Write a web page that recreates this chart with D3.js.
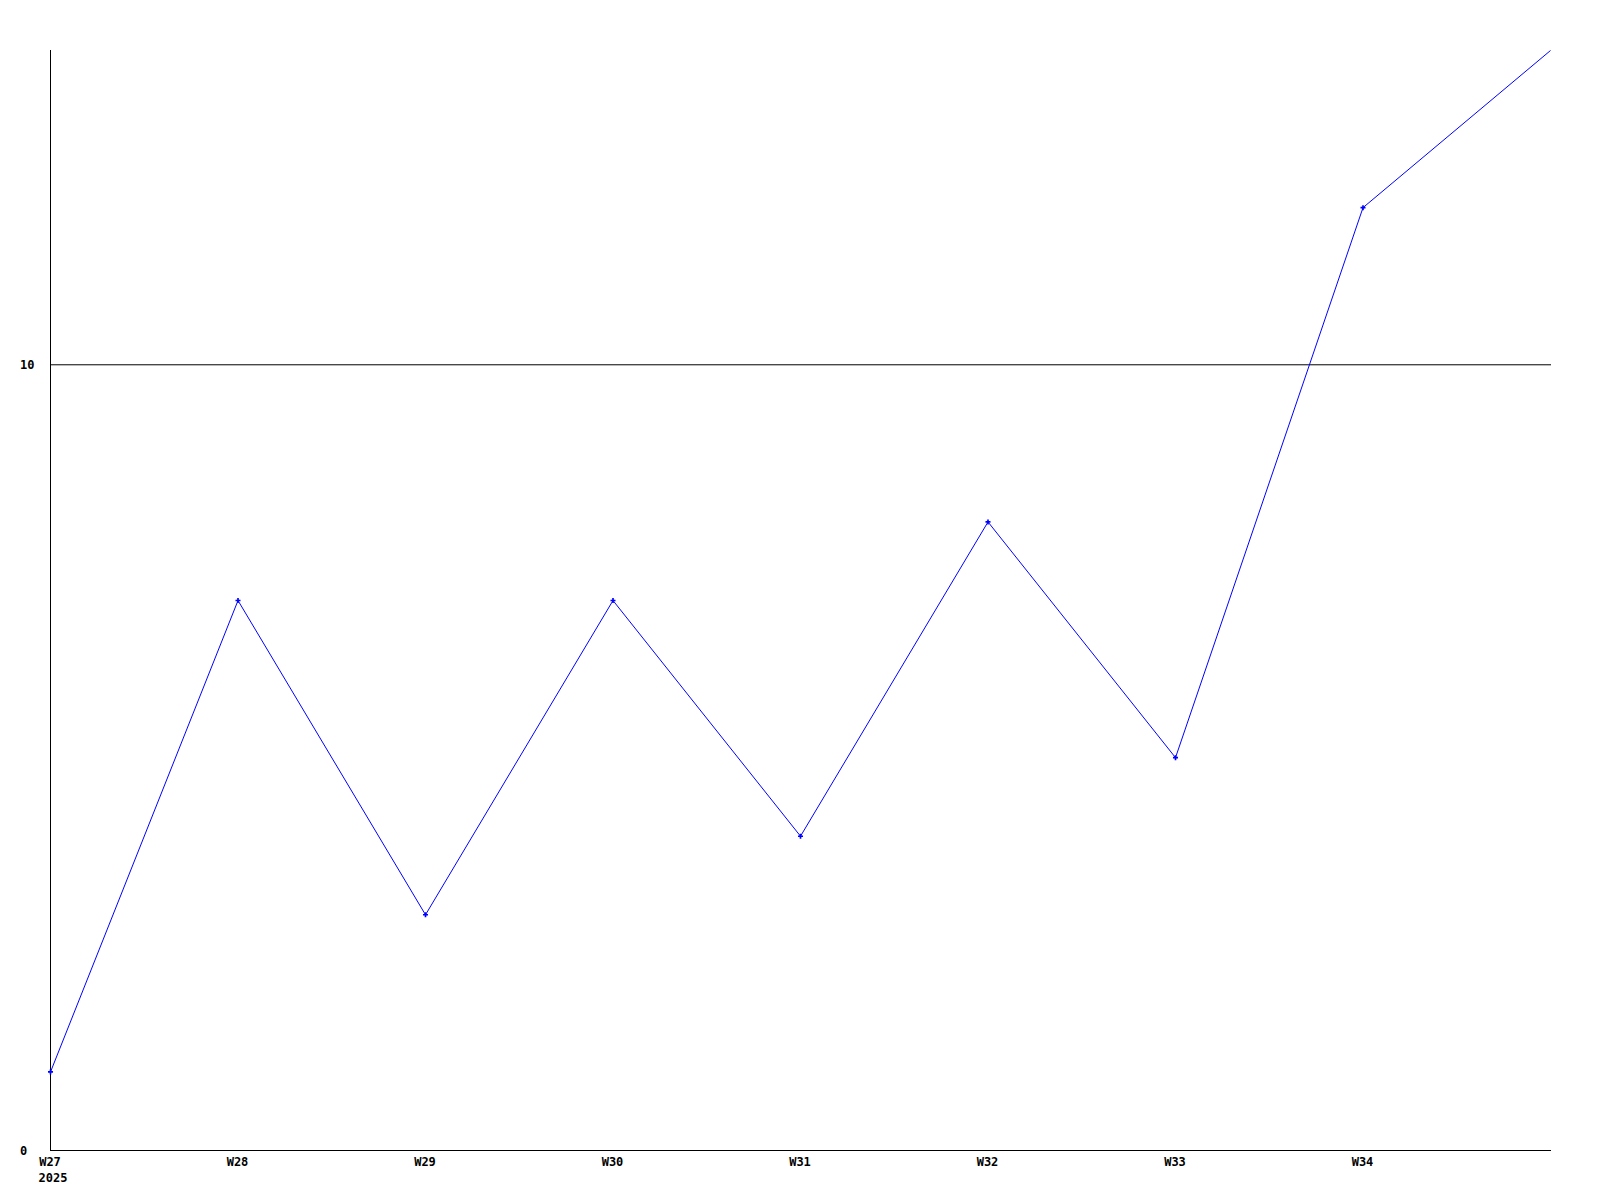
<!DOCTYPE html>
<html><head><meta charset="utf-8">
<script src="https://cdn.jsdelivr.net/npm/d3@7"></script>
<style>body{margin:0;background:#fff}svg text{font-family:"DejaVu Sans Mono",monospace;font-weight:bold;font-size:12px}</style>
</head><body><svg id="c" width="1600" height="1200"></svg>
<script>
const weeks = ["W27","W28","W29","W30","W31","W32","W33","W34","W35"];
const values = [1,7,3,7,4,8,5,12,14];
const xTickLabels = ["W27","W28","W29","W30","W31","W32","W33","W34"];
const yTicks = [0,10];
const yearLabel = "2025";

const svg = d3.select("#c");
const x = d3.scalePoint().domain(weeks).range([50,1550]);
const y = d3.scaleLinear().domain([0,14]).range([1150,50]);

svg.selectAll("line.grid").data(yTicks).join("line")
  .attr("x1",50).attr("x2",1551).attr("y1",d=>y(d)+0.5).attr("y2",d=>y(d)+0.5)
  .attr("stroke","#000").attr("stroke-width",1);
svg.append("line").attr("x1",50.5).attr("x2",50.5).attr("y1",50).attr("y2",1150)
  .attr("stroke","#000").attr("stroke-width",1);
svg.selectAll("text.yl").data(yTicks).join("text")
  .attr("x",20).attr("y",d=>y(d)+5).text(d=>d);
svg.selectAll("text.xl").data(xTickLabels).join("text")
  .attr("x",d=>x(d)).attr("y",1166).attr("text-anchor","middle").text(d=>d);
svg.append("text").attr("x",x("W27")+3).attr("y",1182).attr("text-anchor","middle").text(yearLabel);

const pts = weeks.map((w,i)=>({w,v:values[i]}));
svg.append("path").datum(pts)
  .attr("d",d3.line().x(d=>x(d.w)+0.5).y(d=>y(d.v)+0.5))
  .attr("fill","none").attr("stroke","#0000ff").attr("stroke-width",1);
svg.selectAll("path.m").data(pts.slice(0,8)).join("path")
  .attr("transform",d=>`translate(${x(d.w)+0.5},${y(d.v)+0.5})`)
  .attr("d",d3.symbol(d3.symbolCross,14))
  .attr("fill","#0000ff");
</script></body></html>
